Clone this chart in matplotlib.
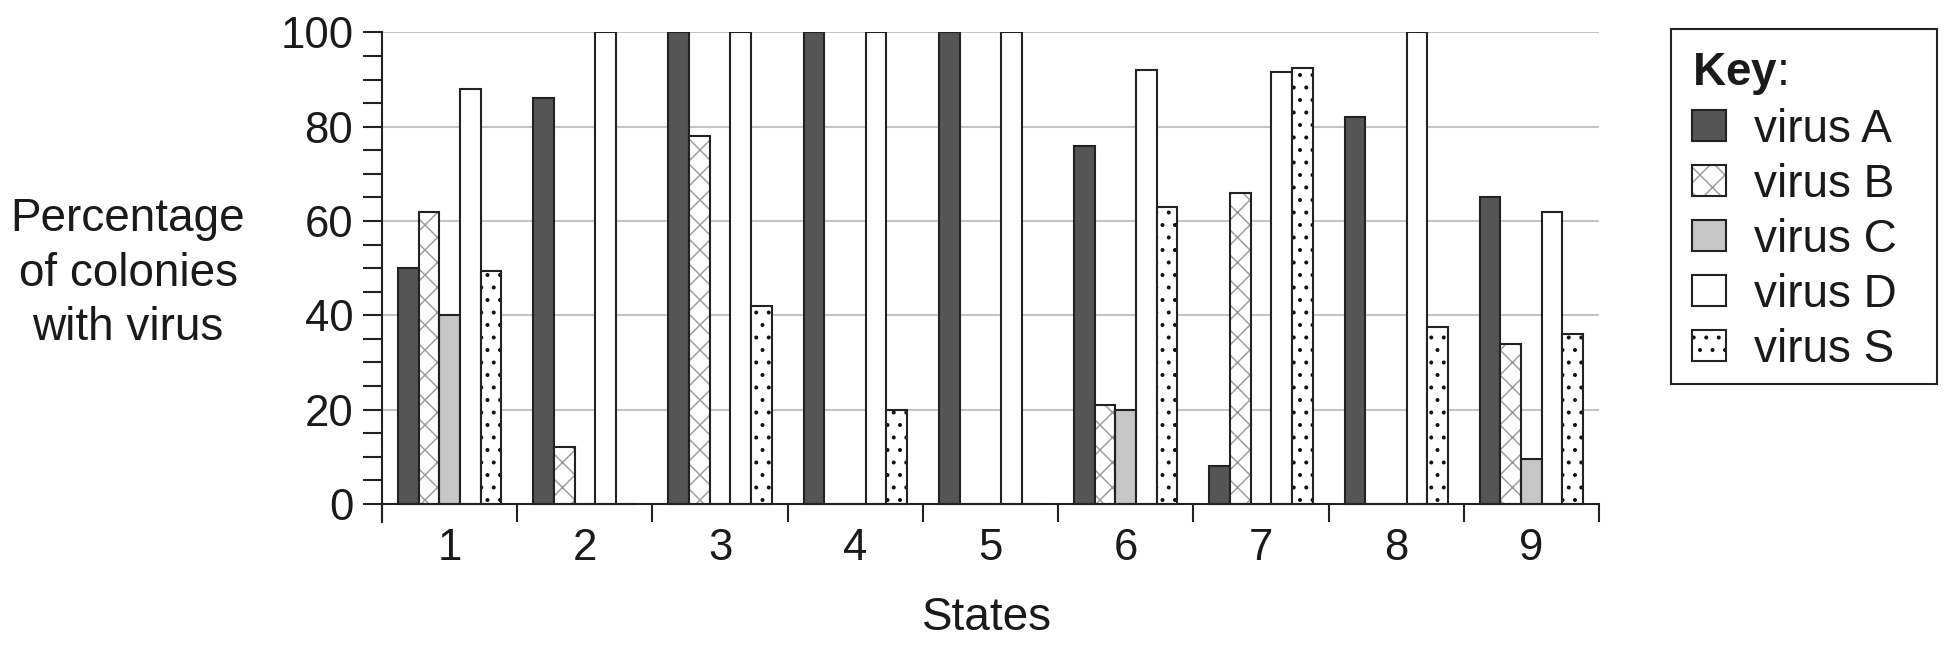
import matplotlib.pyplot as plt
import numpy as np
from matplotlib.patches import Patch, Rectangle
from matplotlib.legend_handler import HandlerTuple
from matplotlib.ticker import MultipleLocator

plt.rcParams['font.family'] = ['Liberation Sans', 'DejaVu Sans']
plt.rcParams['mathtext.fontset'] = 'custom'
plt.rcParams['mathtext.rm'] = 'Liberation Sans'
plt.rcParams['mathtext.bf'] = 'Liberation Sans:bold'
plt.rcParams['hatch.linewidth'] = 0.7

# data
states = ['1', '2', '3', '4', '5', '6', '7', '8', '9']
virus_a = [50, 86, 100, 100, 100, 76, 8, 82, 65]
virus_b = [62, 12, 78, 0, 0, 21, 66, 0, 34]
virus_c = [40, 0, 0, 0, 0, 20, 0, 0, 9.5]
virus_d = [88, 100, 100, 100, 100, 92, 91.5, 100, 62]
virus_s = [49.5, 0, 42, 20, 0, 63, 92.5, 37.5, 36]

TXT = '#1a1a1a'
EDGE = '#222222'
YMIN = -3.8

fig = plt.figure(figsize=(1952 / 150, 645 / 150), dpi=150)
ax = fig.add_axes([0.1957, 0.1909, 0.6235, 0.7589])

x = np.arange(len(states)) + 0.5
w = 0.153

# virus A - dark grey
ax.bar(x - 2 * w, virus_a, w, color='#555555', edgecolor=EDGE, linewidth=1.0, zorder=3)
# virus B - grey cross hatch, black outline drawn on top
ax.bar(x - w, virus_b, w, color='white', edgecolor='#9a9a9a', hatch='xx', linewidth=0, zorder=3)
ax.bar(x - w, virus_b, w, color='none', edgecolor=EDGE, linewidth=1.0, zorder=4)
# virus C - light grey
ax.bar(x, virus_c, w, color='#c6c6c6', edgecolor=EDGE, linewidth=1.0, zorder=3)
# virus D - white
ax.bar(x + w, virus_d, w, color='white', edgecolor=EDGE, linewidth=1.0, zorder=3)
# virus S - dotted
ax.bar(x + 2 * w, virus_s, w, color='white', edgecolor='#111111', hatch='..', linewidth=0, zorder=3)
ax.bar(x + 2 * w, virus_s, w, color='none', edgecolor=EDGE, linewidth=1.0, zorder=4)

ax.set_xlim(0, len(states))
ax.set_ylim(YMIN, 100)

# axes styling
for side in ['top', 'right', 'bottom']:
    ax.spines[side].set_visible(False)
ax.spines['left'].set_color(EDGE)
ax.spines['left'].set_linewidth(1.0)
ax.spines['left'].set_bounds(YMIN, 100)

ax.plot([0, len(states)], [0, 0], color=EDGE, lw=1.0, zorder=5, clip_on=False)
ax.vlines(np.arange(len(states) + 1), YMIN, 0, color=EDGE, lw=1.0, zorder=5, clip_on=False)

ax.set_yticks(np.arange(0, 101, 20))
ax.yaxis.set_minor_locator(MultipleLocator(5))
ax.tick_params(axis='y', which='both', direction='out', length=9, width=1.0, color=EDGE,
               labelsize=21, labelcolor=TXT, pad=4.8)
ax.set_xticks(x)
ax.set_xticklabels(states)
ax.tick_params(axis='x', length=0, labelsize=21, labelcolor=TXT, pad=3)

for yv in range(20, 101, 20):
    ax.axhline(yv, color='#c4c4c4', lw=1.0, zorder=1)

ax.set_ylabel('Percentage\nof colonies\nwith virus', rotation=0, fontsize=22, color=TXT,
              ha='center', va='center', multialignment='center', linespacing=1.31)
ax.yaxis.set_label_coords(-0.2087, 0.507)
ax.set_xlabel('States', fontsize=22, color=TXT, va='center')
ax.xaxis.set_label_coords(0.497, -0.197)

# key
handles = [
    Patch(facecolor='#555555', edgecolor=EDGE, linewidth=1.0),
    (Patch(facecolor='white', edgecolor='#9a9a9a', hatch='xx', linewidth=0),
     Patch(facecolor='none', edgecolor=EDGE, linewidth=1.0)),
    Patch(facecolor='#c6c6c6', edgecolor=EDGE, linewidth=1.0),
    Patch(facecolor='white', edgecolor=EDGE, linewidth=1.0),
    (Patch(facecolor='white', edgecolor='#111111', hatch='..', linewidth=0),
     Patch(facecolor='none', edgecolor=EDGE, linewidth=1.0)),
]
labels = ['virus A', 'virus B', 'virus C', 'virus D', 'virus S']
leg = fig.legend(handles, labels, loc='upper left', bbox_to_anchor=(0.856, 0.9535, 0.1363, 0.0),
                 mode='expand', borderaxespad=0, fontsize=22, title=r'$\mathbf{Key}$:',
                 title_fontsize=22, alignment='left', frameon=False,
                 handlelength=0.76, handleheight=0.68, handletextpad=0.6,
                 labelspacing=0.24, borderpad=0.45,
                 handler_map={tuple: HandlerTuple(ndivide=1, pad=0)})
for t in leg.get_texts():
    t.set_color(TXT)
leg.get_title().set_color(TXT)

# key frame
fig.patches.append(Rectangle((1671 / 1952, 1 - 384 / 645), 266 / 1952, 355.5 / 645,
                             transform=fig.transFigure, fill=False, edgecolor=EDGE,
                             linewidth=1.0))

fig.savefig('out.png', dpi=150)
